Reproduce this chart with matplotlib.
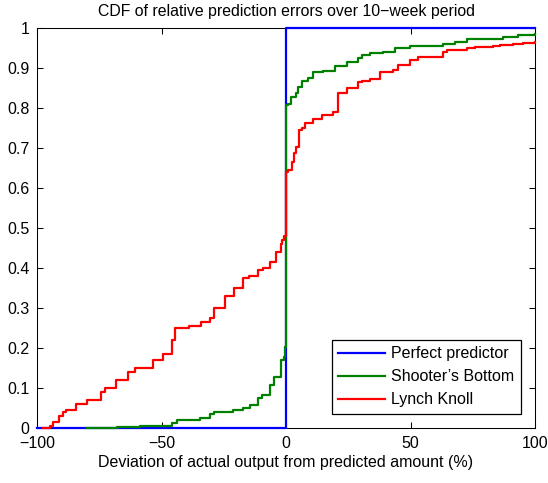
import numpy as np
import matplotlib
matplotlib.use('Agg')
import matplotlib.pyplot as plt

plt.rcParams['font.family'] = ['Liberation Sans', 'DejaVu Sans']
plt.rcParams['font.size'] = 11.5

# Perfect predictor: step from 0 to 1 at zero deviation
perfect_x = [-100, 0, 100]
perfect_y = [0, 1, 1]

# Shooter's Bottom
shooter_x = [-79.8, -68.0, -58.6, -45.9, -43.9, -34.5, -30.5, -28.9, -21.2, -17.1,
             -14.5, -11.1, -9.5, -6.4, -4.7, -2.0, -0.7, -0.3, -0.1, 0.0,
             0.9, 1.9, 4.0, 4.9, 6.3, 9.0, 11.0, 15.0, 19.7, 24.4,
             29.0, 30.4, 33.7, 39.1, 43.8, 49.8, 63.2, 67.9, 72.6, 87.3,
             93.3, 100.0]
shooter_y = [0.0, 0.003, 0.006, 0.013, 0.02, 0.025, 0.035, 0.04, 0.045, 0.05,
             0.0575, 0.074, 0.0825, 0.1075, 0.128, 0.17, 0.178, 0.203, 0.5, 0.807,
             0.81, 0.828, 0.837, 0.853, 0.8675, 0.874, 0.889, 0.893, 0.905, 0.916,
             0.924, 0.9325, 0.9367, 0.94, 0.949, 0.955, 0.96, 0.966, 0.972, 0.977,
             0.9825, 0.986]

# Lynch Knoll
lynch_x = [-97.5, -94.8, -93.4, -91.0, -89.4, -88.4, -84.3, -80.0, -74.4, -72.7,
           -68.3, -63.3, -60.6, -53.5, -49.5, -45.9, -44.6, -38.8, -34.3, -30.5,
           -28.9, -24.5, -20.9, -17.1, -15.0, -11.1, -9.4, -6.4, -4.0, -2.1,
           -1.5, -0.7, -0.2, 0.0, 0.9, 2.3, 3.2, 4.0, 5.4, 6.3,
           7.6, 11.0, 14.3, 19.0, 20.7, 24.4, 29.0, 30.4, 33.7, 37.8,
           43.1, 45.1, 49.8, 53.1, 63.2, 64.5, 72.6, 75.9, 83.3, 85.9,
           91.3, 95.3, 100.0]
lynch_y = [0.0, 0.005, 0.015, 0.03, 0.04, 0.045, 0.06, 0.07, 0.09, 0.10,
           0.12, 0.14, 0.15, 0.17, 0.185, 0.22, 0.25, 0.255, 0.265, 0.275,
           0.30, 0.33, 0.35, 0.374, 0.38, 0.395, 0.40, 0.415, 0.44, 0.46,
           0.47, 0.48, 0.49, 0.64, 0.645, 0.666, 0.687, 0.703, 0.745, 0.75,
           0.762, 0.772, 0.7825, 0.79, 0.838, 0.849, 0.866, 0.868, 0.872, 0.889,
           0.895, 0.9075, 0.92, 0.928, 0.941, 0.945, 0.949, 0.952, 0.955, 0.9575,
           0.96, 0.9635, 0.966]

x_ticks = [-100, -50, 0, 50, 100]
y_ticks = np.arange(0, 1.01, 0.1)
y_ticklabels = ['0', '0.1', '0.2', '0.3', '0.4', '0.5', '0.6', '0.7', '0.8', '0.9', '1']

fig = plt.figure(figsize=(5.48, 4.83), dpi=100)
ax = fig.add_axes([37 / 548, 1 - 428 / 483, (535 - 37) / 548, (428 - 28) / 483])

ax.step(perfect_x, perfect_y, where='post', color=(0, 0, 1), lw=1.6,
        label='Perfect predictor', clip_on=False, zorder=3)
ax.step(shooter_x, shooter_y, where='post', color=(0, 0.5, 0), lw=1.6,
        label='Shooter’s Bottom', clip_on=False, zorder=4)
ax.step(lynch_x, lynch_y, where='post', color=(1, 0, 0), lw=1.6,
        label='Lynch Knoll', clip_on=False, zorder=5)

ax.set_xlim(-100, 100)
ax.set_ylim(0, 1)
ax.set_xticks(x_ticks)
ax.set_yticks(y_ticks)
ax.set_yticklabels(y_ticklabels)
ax.tick_params(direction='in', length=4, width=0.75, top=True, right=True)
ax.tick_params(axis='x', pad=6)
ax.tick_params(axis='y', pad=5.5)
for sp in ax.spines.values():
    sp.set_linewidth(0.75)

ax.set_title('CDF of relative prediction errors over 10\u2212week period',
             fontsize=11.4, pad=8.5)
ax.set_xlabel('Deviation of actual output from predicted amount (%)', labelpad=3)

leg = ax.legend(loc='lower right', fancybox=False, framealpha=1, edgecolor='black',
                handlelength=2.9, handletextpad=0.4, labelspacing=0.5,
                borderaxespad=0.9, borderpad=0.4)
leg.get_frame().set_linewidth(0.9)

fig.savefig('out.png', dpi=100)
